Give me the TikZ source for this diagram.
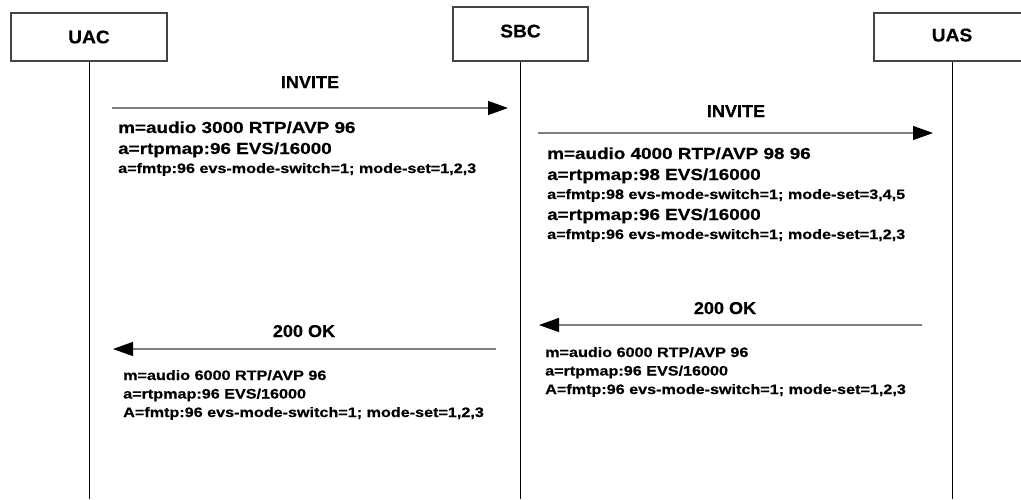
\documentclass[tikz,border=0pt]{standalone}
\usepackage{fontspec}
\setmainfont{Liberation Sans}
\newfontfamily\lblfont{Liberation Sans}[FakeStretch=1.05,FakeBold=0.5]
\newfontfamily\sdpfont{Liberation Sans}[FakeStretch=1.18,FakeBold=0.5]
\usepackage{xcolor}
\definecolor{cLine}{HTML}{808080}
\definecolor{cBox}{HTML}{444444}
\usepackage{tikz}
\usetikzlibrary{positioning,arrows.meta}
\tikzset{
  node-box/.style={draw=cBox,line width=1.1pt,minimum width=156pt,
    minimum height=48pt,inner sep=0pt,
    font=\lblfont\bfseries\fontsize{18.3}{21}\selectfont},
  node-msg/.style={inner sep=0pt,anchor=base,
    font=\lblfont\bfseries\fontsize{17.2}{20}\selectfont},
  node-sdp/.style={inner sep=0pt,anchor=base west,
    font=\sdpfont\bfseries\fontsize{16}{19}\selectfont},
  node-sdp-small/.style={inner sep=0pt,anchor=base west,
    font=\sdpfont\bfseries\fontsize{13.7}{16}\selectfont},
  arrow/.style={-{Triangle[length=20pt,width=14pt,color=black]},
    line width=1.4pt,draw=cLine},
  lifeline/.style={line width=1pt,draw=black},
}
\begin{document}
\begin{tikzpicture}[x=1pt,y=-1pt]
  \useasboundingbox (0,0) rectangle (1021,499);
  \clip (0,0) rectangle (1021,499);
  \fill[white] (0,0) rectangle (1021,499);
  % participants
  \node[node-box] (uac) at (89,37) {UAC};
  \node[node-box,minimum width=135pt,minimum height=54pt,text depth=6pt] (sbc) at (520.5,34) {SBC};
  \node[node-box,text depth=4pt] (uas) at (952,37) {UAS};
  \coordinate (bottom) at (0,499);
  \draw[lifeline] (uac.south) -- (uac.south |- bottom);
  \draw[lifeline] (sbc.south) -- (sbc.south |- bottom);
  \draw[lifeline] (uas.south) -- (uas.south |- bottom);

  % INVITE UAC -> SBC
  \coordinate (inv1-from) at (112,108);
  \coordinate (inv1-to) at (508,108);
  \draw[arrow] (inv1-from) -- (inv1-to);
  \node[node-msg] (inv1) at (310,88) {INVITE};
  \node[node-sdp] (inv1-m) at (118,133) {m=audio 3000 RTP/AVP 96};
  \node[node-sdp] (inv1-r) at (118,154) {a=rtpmap:96 EVS/16000};
  \node[node-sdp-small] (inv1-f) at (118,173) {a=fmtp:96 evs-mode-switch=1; mode-set=1,2,3};

  % INVITE SBC -> UAS
  \coordinate (inv2-from) at (538,133);
  \coordinate (inv2-to) at (933,133);
  \draw[arrow] (inv2-from) -- (inv2-to);
  \node[node-msg] (inv2) at (736,117) {INVITE};
  \node[node-sdp] (inv2-m) at (547,159) {m=audio 4000 RTP/AVP 98 96};
  \node[node-sdp] (inv2-r1) at (547,180) {a=rtpmap:98 EVS/16000};
  \node[node-sdp-small] (inv2-f1) at (547,199) {a=fmtp:98 evs-mode-switch=1; mode-set=3,4,5};
  \node[node-sdp] (inv2-r2) at (547,220) {a=rtpmap:96 EVS/16000};
  \node[node-sdp-small] (inv2-f2) at (547,239) {a=fmtp:96 evs-mode-switch=1; mode-set=1,2,3};

  % 200 OK UAS -> SBC
  \coordinate (ok1-from) at (922,325);
  \coordinate (ok1-to) at (539,325);
  \draw[arrow] (ok1-from) -- (ok1-to);
  \node[node-msg] (ok1) at (725,314) {200 OK};
  \node[node-sdp-small] (ok1-m) at (545,357) {m=audio 6000 RTP/AVP 96};
  \node[node-sdp-small] (ok1-r) at (545,375.5) {a=rtpmap:96 EVS/16000};
  \node[node-sdp-small] (ok1-f) at (545,394) {A=fmtp:96 evs-mode-switch=1; mode-set=1,2,3};

  % 200 OK SBC -> UAC
  \coordinate (ok2-from) at (496,349);
  \coordinate (ok2-to) at (113,349);
  \draw[arrow] (ok2-from) -- (ok2-to);
  \node[node-msg] (ok2) at (304,337) {200 OK};
  \node[node-sdp-small] (ok2-m) at (123,380) {m=audio 6000 RTP/AVP 96};
  \node[node-sdp-small] (ok2-r) at (123,398.5) {a=rtpmap:96 EVS/16000};
  \node[node-sdp-small] (ok2-f) at (123,417) {A=fmtp:96 evs-mode-switch=1; mode-set=1,2,3};
\end{tikzpicture}
\end{document}
